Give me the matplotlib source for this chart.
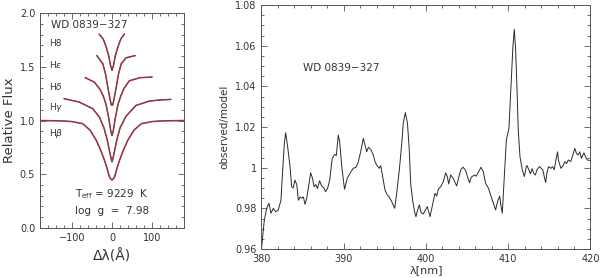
import matplotlib
matplotlib.use("Agg")
import matplotlib.pyplot as plt
from matplotlib.ticker import MultipleLocator, FuncFormatter

# ---------------- Left panel: Balmer line profiles ----------------
hb_dl = [-180, -130, -100, -73, -55, -40, -28, -19, -12, -7, -3, 0, 3, 7, 12, 19, 28, 40, 55, 73, 100, 130, 180]
hb_fx = [1.0, 0.997, 0.99, 0.97, 0.91, 0.82, 0.72, 0.63, 0.55, 0.48, 0.455, 0.445, 0.455, 0.48, 0.55, 0.63, 0.72, 0.82, 0.91, 0.97, 0.99, 0.997, 1.0]

hg_dl = [-120, -82, -48, -32, -20, -12, -6, -2, 0, 2, 6, 12, 20, 35, 60, 93, 120, 147]
hg_fx = [1.204, 1.172, 1.11, 1.035, 0.93, 0.82, 0.71, 0.64, 0.615, 0.64, 0.71, 0.82, 0.93, 1.04, 1.141, 1.181, 1.192, 1.197]

hd_dl = [-67, -44, -30, -22, -15, -8, -3, 0, 3, 8, 15, 22, 30, 43, 70, 100]
hd_fx = [1.40, 1.358, 1.29, 1.23, 1.15, 1.02, 0.90, 0.86, 0.90, 1.02, 1.15, 1.23, 1.30, 1.37, 1.40, 1.405]

he_dl = [-38, -23, -16, -11, -5, -2, 0, 2, 5, 11, 16, 23, 35, 58]
he_fx = [1.606, 1.53, 1.43, 1.32, 1.20, 1.15, 1.14, 1.15, 1.20, 1.32, 1.43, 1.53, 1.585, 1.606]

h8_dl = [-32, -22, -15, -8, -4, 0, 4, 8, 15, 22, 31]
h8_fx = [1.805, 1.76, 1.69, 1.60, 1.52, 1.467, 1.52, 1.60, 1.69, 1.76, 1.808]

line_names = [r"H$\beta$", r"H$\gamma$", r"H$\delta$", r"H$\epsilon$", "H8"]
line_label_y = [0.88, 1.12, 1.32, 1.52, 1.72]

# ---------------- Right panel: observed/model ratio ----------------
lam = [380.0, 380.15, 380.34, 380.63, 380.91, 381.16, 381.44, 381.72, 382.04, 382.37,
       382.53, 382.78, 382.94, 383.19, 383.47, 383.67, 383.85, 384.07, 384.3, 384.48,
       384.7, 384.9, 385.1, 385.29, 385.5, 385.69, 385.98, 386.2, 386.4, 386.6,
       386.8, 387.07, 387.3, 387.6, 387.8, 388.05, 388.3, 388.6, 388.9, 389.1,
       389.34, 389.5, 389.8, 390.1, 390.43, 390.76, 391.16, 391.49, 391.77, 392.06,
       392.38, 392.6, 392.79, 393.0, 393.3, 393.6, 393.8, 394.0, 394.32, 394.5,
       394.73, 395.02, 395.3, 395.5, 395.83, 396.1, 396.2, 396.44, 396.76, 397.04,
       397.24, 397.49, 397.75, 397.97, 398.14, 398.4, 398.62, 398.78, 398.9, 399.19,
       399.4, 399.67, 399.9, 400.16, 400.49, 400.8, 401.1, 401.3, 401.5, 401.8,
       402.1, 402.4, 402.6, 402.76, 403.0, 403.3, 403.73, 404.0, 404.26, 404.5,
       404.8, 405.07, 405.3, 405.5, 405.9, 406.1, 406.4, 406.69, 406.97, 407.25,
       407.6, 407.9, 408.2, 408.47, 408.7, 408.97, 409.1, 409.28, 409.5, 409.77,
       410.09, 410.33, 410.57, 410.74, 410.9, 411.06, 411.22, 411.43, 411.71, 411.96,
       412.2, 412.3, 412.5, 412.7, 412.9, 413.1, 413.3, 413.5, 413.8, 414.0,
       414.2, 414.38, 414.55, 414.7, 414.9, 415.2, 415.4, 415.6, 415.8, 416.0,
       416.1, 416.4, 416.6, 416.9, 417.1, 417.3, 417.6, 417.86, 418.1, 418.3,
       418.5, 418.7, 418.9, 419.2, 419.4, 419.6, 420.0]
ratio = [0.960, 0.966, 0.974, 0.980, 0.9825, 0.9776, 0.980, 0.9783, 0.9792, 0.984,
         0.9956, 1.012, 1.0172, 1.010, 1.0005, 0.9906, 0.990, 0.9939, 0.9915, 0.984,
         0.9856, 0.985, 0.9856, 0.982, 0.985, 0.9898, 0.9975, 0.9948, 0.9906, 0.9917,
         0.9897, 0.9936, 0.991, 0.990, 0.9882, 0.990, 0.994, 1.0046, 1.0065, 1.006,
         1.016, 1.013, 0.999, 0.9894, 0.9948, 0.9972, 0.9997, 1.0002, 1.0029, 1.0078,
         1.0144, 1.011, 1.0078, 1.010, 1.0089, 1.0062, 1.003, 1.0013, 0.9997, 1.001,
         0.9956, 0.9890, 0.9865, 0.9858, 0.9833, 0.9808, 0.980, 0.9874, 0.9989, 1.0112,
         1.0218, 1.0271, 1.0218, 1.0087, 0.9923, 0.9833, 0.9783, 0.9759, 0.978, 0.9817,
         0.978, 0.9772, 0.979, 0.9808, 0.9759, 0.9817, 0.9874, 0.986, 0.9894, 0.9907,
         0.9931, 0.9975, 0.9955, 0.992, 0.9964, 0.9948, 0.991, 0.9955, 0.9992, 1.0002,
         0.9989, 0.9953, 0.9926, 0.9953, 0.9964, 0.9958, 0.998, 1.0002, 0.998, 0.9923,
         0.9899, 0.986, 0.9825, 0.9792, 0.9833, 0.986, 0.9817, 0.9776, 0.994, 1.0136,
         1.0194, 1.040, 1.0595, 1.068, 1.0579, 1.040, 1.0185, 1.0054, 0.9989, 0.9956,
         1.0005, 1.001, 0.999, 0.997, 0.9995, 0.9972, 0.9964, 0.999, 1.0005, 0.9997,
         0.999, 0.9956, 0.9927, 0.9972, 1.0005, 0.9997, 1.0005, 0.999, 1.0038, 1.0078,
         1.0038, 0.9997, 1.0005, 1.003, 1.002, 1.0038, 1.003, 1.0062, 1.0095, 1.007,
         1.0062, 1.0078, 1.0046, 1.0073, 1.0054, 1.0038, 1.0035]

star = "WD 0839\u2212327"

plt.rcParams['font.family'] = ['DejaVu Sans']
TXT = '#333333'
FRAME = '#555555'

fig = plt.figure(figsize=(6.0, 2.78), dpi=100)
axL = fig.add_axes([0.0667, 0.181, 0.240, 0.771])
axR = fig.add_axes([0.4358, 0.1043, 0.5483, 0.8777])

def style(ax):
    for s in ax.spines.values():
        s.set_color(FRAME)
        s.set_linewidth(0.7)
    ax.tick_params(which='both', direction='in', top=True, right=True,
                   colors=FRAME, labelcolor=TXT, labelsize=7, width=0.6)
    ax.tick_params(which='major', length=4)
    ax.tick_params(which='minor', length=2)

# Left
profiles = [(hb_dl, hb_fx), (hg_dl, hg_fx), (hd_dl, hd_fx), (he_dl, he_fx), (h8_dl, h8_fx)]
for dl, fx in profiles:
    axL.plot(dl, fx, color='#555555', lw=1.1, solid_capstyle='round')
    axL.plot(dl, fx, color='#b8283a', lw=0.7)
axL.set_xlim(-180, 180)
axL.set_ylim(0, 2)
axL.xaxis.set_major_locator(MultipleLocator(100))
axL.xaxis.set_minor_locator(MultipleLocator(20))
axL.yaxis.set_major_locator(MultipleLocator(0.5))
axL.yaxis.set_minor_locator(MultipleLocator(0.1))
axL.xaxis.set_major_formatter(FuncFormatter(lambda v, p: f"{v:.0f}".replace('-', '\u2212')))
axL.yaxis.set_major_formatter(FuncFormatter(lambda v, p: f"{v:.1f}"))
style(axL)
axL.set_ylabel("Relative Flux", fontsize=9.5, color=TXT, labelpad=3)
axL.set_xlabel("\u0394\u03bb(\u00c5)", fontsize=10, color=TXT, labelpad=5)
axL.text(-152, 1.895, star, fontsize=7.5, color=TXT, ha='left', va='center')
for name, yy in zip(line_names, line_label_y):
    axL.text(-157, yy, name, fontsize=6.5, color=TXT, ha='left', va='center')
axL.text(0, 0.31, r"T$_{\rm eff}$ = 9229  K", fontsize=7.5, color=TXT, ha='center', va='center')
axL.text(0, 0.155, "log  g  =  7.98", fontsize=7.5, color=TXT, ha='center', va='center')

# Right
axR.plot(lam, ratio, color='#2a2a2a', lw=0.7)
axR.set_xlim(380, 420)
axR.set_ylim(0.96, 1.08)
axR.xaxis.set_major_locator(MultipleLocator(10))
axR.xaxis.set_minor_locator(MultipleLocator(2))
axR.yaxis.set_major_locator(MultipleLocator(0.02))
axR.yaxis.set_minor_locator(MultipleLocator(0.005))
axR.yaxis.set_major_formatter(FuncFormatter(lambda v, p: f"{round(v, 4):g}"))
axR.xaxis.set_major_formatter(FuncFormatter(lambda v, p: f"{v:.0f}"))
style(axR)
axR.set_ylabel("observed/model", fontsize=7.5, color=TXT, labelpad=4)
axR.set_xlabel("\u03bb[nm]", fontsize=8, color=TXT, labelpad=1)
axR.text(385.1, 1.049, star, fontsize=7.5, color=TXT, ha='left', va='center')

fig.savefig("out.png", dpi=100)
